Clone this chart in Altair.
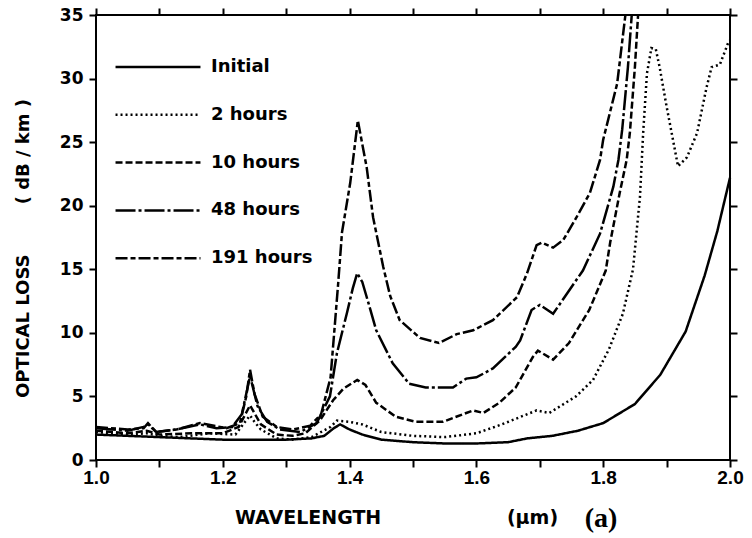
import altair as alt
import pandas as pd

series_names = ["Initial", "2 hours", "10 hours", "48 hours", "191 hours"]

wl_initial = [1.00, 1.05, 1.10, 1.15, 1.20, 1.25, 1.30, 1.34, 1.36, 1.375, 1.385, 1.40, 1.42, 1.45,
              1.50, 1.55, 1.60, 1.65, 1.68, 1.72, 1.76, 1.80, 1.85, 1.89, 1.93, 1.96, 1.98, 2.00]
loss_initial = [2.0, 1.9, 1.8, 1.7, 1.6, 1.6, 1.6, 1.7, 1.9, 2.5, 2.8, 2.4, 2.0, 1.6,
                1.4, 1.3, 1.3, 1.4, 1.7, 1.9, 2.3, 2.9, 4.4, 6.7, 10.1, 14.5, 18.0, 22.2]

wl_2h = [1.00, 1.05, 1.08, 1.10, 1.13, 1.18, 1.22, 1.235, 1.243, 1.25, 1.26, 1.285, 1.31, 1.34,
         1.37, 1.38, 1.40, 1.42, 1.45, 1.50, 1.55, 1.60, 1.64, 1.67, 1.695, 1.715, 1.757, 1.784,
         1.809, 1.831, 1.847, 1.858, 1.863, 1.869, 1.876, 1.883, 1.889, 1.90, 1.91, 1.918, 1.932,
         1.948, 1.963, 1.971, 1.984, 1.997, 2.00]
loss_2h = [2.2, 2.0, 2.1, 1.9, 1.8, 2.1, 2.0, 3.0, 3.5, 3.0, 2.4, 1.7, 1.6, 1.8,
           2.6, 3.1, 3.0, 2.8, 2.2, 1.9, 1.8, 2.1, 2.8, 3.4, 3.9, 3.7, 5.0, 6.3,
           8.7, 11.5, 15.0, 20.7, 25.7, 30.4, 32.4, 32.3, 30.9, 27.8, 25.2, 23.1, 23.8,
           25.7, 29.3, 30.9, 31.1, 32.8, 33.0]

wl_10h = [1.00, 1.05, 1.08, 1.10, 1.15, 1.20, 1.225, 1.243, 1.26, 1.285, 1.31, 1.33, 1.353, 1.374,
          1.39, 1.412, 1.425, 1.442, 1.473, 1.505, 1.547, 1.584, 1.595, 1.611, 1.636, 1.662,
          1.689, 1.697, 1.721, 1.746, 1.778, 1.804, 1.811, 1.826, 1.837, 1.842, 1.85, 1.855]
loss_10h = [2.3, 2.1, 2.3, 2.0, 2.1, 2.1, 2.6, 4.3, 2.8, 2.0, 1.9, 2.1, 3.1, 4.7,
            5.6, 6.3, 5.9, 4.5, 3.4, 3.0, 3.0, 3.7, 3.9, 3.7, 4.5, 5.7,
            8.1, 8.6, 7.9, 9.2, 11.8, 14.9, 17.1, 21.0, 23.6, 25.7, 30.9, 35.0]

wl_48h = [1.00, 1.05, 1.075, 1.082, 1.095, 1.127, 1.164, 1.19, 1.215, 1.23, 1.243, 1.255, 1.27,
          1.29, 1.322, 1.348, 1.369, 1.38, 1.396, 1.405, 1.412, 1.42, 1.43, 1.442, 1.468, 1.494,
          1.52, 1.563, 1.584, 1.60, 1.626, 1.662, 1.669, 1.687, 1.70, 1.721, 1.743, 1.768, 1.795,
          1.816, 1.824, 1.83, 1.839, 1.845]
loss_48h = [2.5, 2.3, 2.6, 2.8, 2.2, 2.4, 2.8, 2.5, 2.6, 3.6, 6.6, 4.2, 3.0,
            2.4, 2.2, 2.9, 5.0, 8.4, 11.6, 13.5, 14.7, 14.0, 12.3, 10.2, 7.6, 6.0,
            5.7, 5.7, 6.4, 6.5, 7.2, 8.9, 9.4, 11.8, 12.2, 11.5, 13.1, 14.9, 17.8,
            21.5, 23.6, 26.0, 30.9, 35.0]

wl_191h = [1.00, 1.05, 1.075, 1.082, 1.095, 1.127, 1.164, 1.206, 1.227, 1.237, 1.243, 1.25, 1.263,
           1.285, 1.311, 1.338, 1.355, 1.37, 1.382, 1.388, 1.401, 1.413, 1.427, 1.437, 1.453,
           1.464, 1.479, 1.511, 1.541, 1.569, 1.595, 1.626, 1.664, 1.68, 1.695, 1.703, 1.721,
           1.737, 1.758, 1.779, 1.795, 1.80, 1.822, 1.835]
loss_191h = [2.6, 2.4, 2.5, 2.9, 2.2, 2.4, 2.9, 2.5, 2.9, 5.0, 7.1, 5.2, 3.4,
             2.6, 2.4, 2.7, 3.6, 6.5, 13.9, 17.9, 21.8, 26.7, 23.0, 19.1, 15.2,
             12.9, 11.0, 9.6, 9.2, 9.9, 10.2, 11.0, 12.8, 14.7, 16.9, 17.1, 16.7,
             17.3, 19.1, 21.0, 23.6, 25.2, 29.6, 35.0]

x_ticks = [1.0, 1.1, 1.2, 1.3, 1.4, 1.5, 1.6, 1.7, 1.8, 1.9, 2.0]
y_ticks = [0, 5, 10, 15, 20, 25, 30, 35]

rows = []
for name, wl, loss in zip(series_names,
                          [wl_initial, wl_2h, wl_10h, wl_48h, wl_191h],
                          [loss_initial, loss_2h, loss_10h, loss_48h, loss_191h]):
    for w, l in zip(wl, loss):
        rows.append({"series": name, "wavelength": w, "loss": l})
df = pd.DataFrame(rows)

dashes = [[1, 0], [2, 3], [7, 3], [20, 3, 3, 3], [12, 3, 5, 3]]

W, H, TL = 634, 445, 7

xscale = alt.Scale(domain=[1.0, 2.0], nice=False, zero=False)
yscale = alt.Scale(domain=[0, 35], nice=False)

x_title = "WAVELENGTH" + "\u00a0" * 19 + "(\u03bcm)"
y_title = "OPTICAL LOSS" + "\u00a0" * 8 + "( dB / km )"

tick_opts = dict(ticks=True, tickSize=TL, tickWidth=2, tickColor="black",
                 domain=False, grid=False)

lines = alt.Chart(df).mark_line(color="black", strokeWidth=2.5, strokeCap="butt").encode(
    x=alt.X("wavelength:Q", scale=xscale,
            axis=alt.Axis(orient="bottom", values=x_ticks,
                          labelExpr="(round(datum.value*10) % 2 == 0) ? format(datum.value, '.1f') : ''",
                          labelFont="Liberation Sans", labelFontSize=19, labelFontWeight="bold",
                          labelPadding=1, labelFlush=False,
                          title=x_title, titleFont="DejaVu Sans", titleFontSize=19,
                          titleFontWeight="bold", titleX=300, titleY=63,
                          titleAlign="center", titleBaseline="alphabetic", **tick_opts)),
    y=alt.Y("loss:Q", scale=yscale,
            axis=alt.Axis(orient="left", values=y_ticks,
                          labelFont="DejaVu Sans", labelFontSize=17, labelFontWeight="bold",
                          labelPadding=6,
                          title=y_title, titleFont="DejaVu Sans", titleFontSize=18,
                          titleFontWeight="bold", titleX=-73, titleY=233,
                          titleAlign="center", titleBaseline="middle", **tick_opts)),
    strokeDash=alt.StrokeDash(
        "series:N",
        scale=alt.Scale(domain=series_names, range=dashes),
        legend=alt.Legend(orient="none", legendX=39, legendY=40, title=None,
                          symbolType="M-4,0H4", symbolSize=451, symbolStrokeWidth=2.5,
                          symbolStrokeColor="black", symbolOffset=11,
                          labelFont="DejaVu Sans", labelFontSize=18, labelFontWeight="bold",
                          labelColor="black", labelOffset=41, rowPadding=26.8, padding=0)),
)

frame_axes = alt.Chart(df).mark_line(strokeOpacity=0).encode(
    x=alt.X("wavelength:Q", scale=xscale,
            axis=alt.Axis(orient="top", values=x_ticks, labels=False, title=None, **tick_opts)),
    y=alt.Y("loss:Q", scale=yscale,
            axis=alt.Axis(orient="right", values=y_ticks, labels=False, title=None, **tick_opts)),
    detail="series:N",
)

panel_label = alt.Chart(pd.DataFrame({"t": ["(a)"]})).mark_text(
    font="Liberation Serif", fontSize=28, fontWeight="bold", align="center",
    baseline="alphabetic", color="black"
).encode(x=alt.value(505), y=alt.value(512), text="t:N")

chart = alt.layer(lines, frame_axes, panel_label).resolve_axis(
    x="independent", y="independent"
).properties(
    width=W, height=H, autosize="none",
    padding={"left": 96, "top": 15, "right": 22, "bottom": 78},
    background="white",
).configure_view(
    stroke="black", strokeWidth=2
).configure_axis(
    labelColor="black", titleColor="black"
)

chart.save("out.html", embed_options={"renderer": "svg", "actions": False})
